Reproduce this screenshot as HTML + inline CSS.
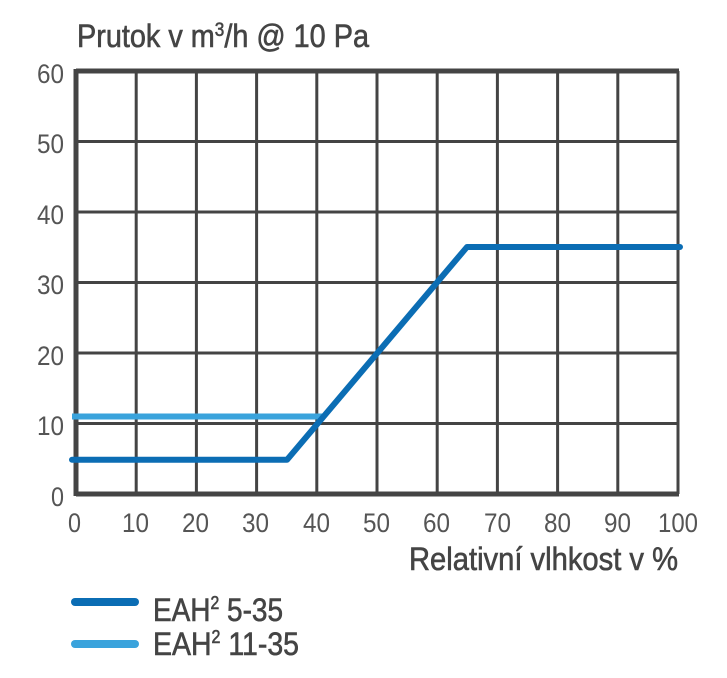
<!DOCTYPE html>
<html><head><meta charset="utf-8"><style>
html,body{margin:0;padding:0;background:#fff;}
svg text{font-family:"Liberation Sans Narrow","Liberation Sans",sans-serif;}
</style></head><body>
<svg width="727" height="673" viewBox="0 0 727 673" xmlns="http://www.w3.org/2000/svg">
<rect width="727" height="673" fill="#fff"/>
<text x="77" y="47" font-size="32" fill="#444" textLength="292" lengthAdjust="spacingAndGlyphs" style="stroke:#444;stroke-width:0.6">Prutok v m<tspan font-size="19" dy="-11">3</tspan><tspan dy="11">/h @ 10 Pa</tspan></text>
<g stroke="#444" stroke-width="3">
<line x1="136.2" y1="71" x2="136.2" y2="494"/>
<line x1="196.4" y1="71" x2="196.4" y2="494"/>
<line x1="256.6" y1="71" x2="256.6" y2="494"/>
<line x1="316.8" y1="71" x2="316.8" y2="494"/>
<line x1="377" y1="71" x2="377" y2="494"/>
<line x1="437.2" y1="71" x2="437.2" y2="494"/>
<line x1="497.4" y1="71" x2="497.4" y2="494"/>
<line x1="557.6" y1="71" x2="557.6" y2="494"/>
<line x1="617.8" y1="71" x2="617.8" y2="494"/>
<line x1="678" y1="71" x2="678" y2="494"/>
<line x1="76" y1="141.5" x2="678" y2="141.5"/>
<line x1="76" y1="212" x2="678" y2="212"/>
<line x1="76" y1="282.5" x2="678" y2="282.5"/>
<line x1="76" y1="353" x2="678" y2="353"/>
<line x1="76" y1="423.5" x2="678" y2="423.5"/>
</g>
<g stroke="#444" stroke-width="5">
<line x1="76" y1="71" x2="679" y2="71"/>
<line x1="76" y1="494" x2="679" y2="494"/>
<line x1="76" y1="69" x2="76" y2="496"/>
</g>
<polyline points="72,416.5 323,416.5" fill="none" stroke="#3aa3dc" stroke-width="6"/>
<polyline points="72,459.8 287,459.8 467,247 680,247" fill="none" stroke="#0b6db4" stroke-width="6" stroke-linejoin="round" stroke-linecap="round"/>
<g font-size="27" fill="#555" lengthAdjust="spacingAndGlyphs">
<text x="37" y="83" textLength="27" lengthAdjust="spacingAndGlyphs">60</text>
<text x="37" y="153" textLength="27" lengthAdjust="spacingAndGlyphs">50</text>
<text x="37" y="224" textLength="27" lengthAdjust="spacingAndGlyphs">40</text>
<text x="37" y="294" textLength="27" lengthAdjust="spacingAndGlyphs">30</text>
<text x="37" y="365" textLength="27" lengthAdjust="spacingAndGlyphs">20</text>
<text x="37" y="435" textLength="27" lengthAdjust="spacingAndGlyphs">10</text>
<text x="51" y="506" textLength="13" lengthAdjust="spacingAndGlyphs">0</text>
</g>
<g font-size="27" fill="#555">
<text x="68" y="532" textLength="13" lengthAdjust="spacingAndGlyphs">0</text>
<text x="122" y="532" textLength="27" lengthAdjust="spacingAndGlyphs">10</text>
<text x="182" y="532" textLength="27" lengthAdjust="spacingAndGlyphs">20</text>
<text x="242" y="532" textLength="27" lengthAdjust="spacingAndGlyphs">30</text>
<text x="303" y="532" textLength="27" lengthAdjust="spacingAndGlyphs">40</text>
<text x="363" y="532" textLength="27" lengthAdjust="spacingAndGlyphs">50</text>
<text x="423" y="532" textLength="27" lengthAdjust="spacingAndGlyphs">60</text>
<text x="484" y="532" textLength="27" lengthAdjust="spacingAndGlyphs">70</text>
<text x="544" y="532" textLength="27" lengthAdjust="spacingAndGlyphs">80</text>
<text x="604" y="532" textLength="27" lengthAdjust="spacingAndGlyphs">90</text>
<text x="658" y="532" textLength="40" lengthAdjust="spacingAndGlyphs">100</text>
</g>
<text x="409" y="570" font-size="32" fill="#444" textLength="269" lengthAdjust="spacingAndGlyphs" style="stroke:#444;stroke-width:0.6">Relativní vlhkost v %</text>
<line x1="75" y1="602" x2="135" y2="602" stroke="#0b6db4" stroke-width="8" stroke-linecap="round"/>
<line x1="75" y1="644" x2="135" y2="644" stroke="#3aa3dc" stroke-width="8" stroke-linecap="round"/>
<text x="153" y="621" font-size="32" fill="#444" textLength="130" lengthAdjust="spacingAndGlyphs" style="stroke:#444;stroke-width:0.6">EAH<tspan font-size="18" dy="-12">2</tspan><tspan dy="12"> 5-35</tspan></text>
<text x="153" y="655" font-size="32" fill="#444" textLength="146" lengthAdjust="spacingAndGlyphs" style="stroke:#444;stroke-width:0.6">EAH<tspan font-size="18" dy="-12">2</tspan><tspan dy="12"> 11-35</tspan></text>
</svg>
</body></html>
